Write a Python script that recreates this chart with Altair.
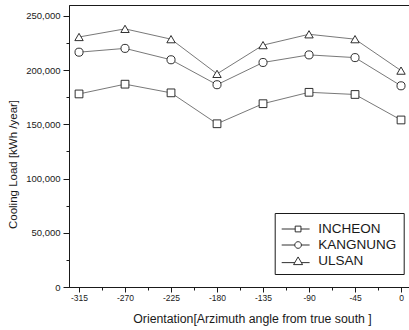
import altair as alt
import pandas as pd

angles = [-315, -270, -225, -180, -135, -90, -45, 0]
incheon = [178000, 187000, 179000, 150500, 169000, 179500, 177500, 154000]
kangnung = [216500, 220000, 209500, 186500, 207000, 214000, 211500, 185500]
ulsan = [230500, 238000, 228500, 196500, 223000, 233000, 228500, 199500]
series_names = ["INCHEON", "KANGNUNG", "ULSAN"]
x_tick_values = [-315, -292.5, -270, -247.5, -225, -202.5, -180, -157.5,
                 -135, -112.5, -90, -67.5, -45, -22.5, 0]
y_tick_values = [0, 25000, 50000, 75000, 100000, 125000, 150000, 175000,
                 200000, 225000, 250000]

rows = []
for name, vals in zip(series_names, [incheon, kangnung, ulsan]):
    for a, v in zip(angles, vals):
        rows.append({"series": name, "angle": a, "load": v})
df = pd.DataFrame(rows)

FONT = "Liberation Sans"
INK = "#1a1a1a"

x_enc = alt.X(
    "angle:Q",
    scale=alt.Scale(domain=[-324.8, 7.8], nice=False, zero=False),
    axis=alt.Axis(
        values=x_tick_values,
        labelExpr="datum.value % 45 == 0 ? datum.value : ''",
        tickSize={"condition": {"test": "datum.value % 45 == 0", "value": 5}, "value": 3},
        labelPadding=1,
        labelFontSize=8.5,
        labelFont=FONT,
        labelColor=INK,
        tickColor=INK,
        domainColor=INK,
        grid=False,
        title="Orientation[Arzimuth angle from true south ]",
        titleFont=FONT,
        titleFontSize=12.3,
        titleFontWeight="normal",
        titleColor=INK,
        titleX=183,
        titleY=31,
        titleBaseline="middle",
    ),
)
y_enc = alt.Y(
    "load:Q",
    scale=alt.Scale(domain=[0, 260000], nice=False),
    axis=alt.Axis(
        values=y_tick_values,
        labelExpr="datum.value % 50000 == 0 ? format(datum.value, ',') : ''",
        tickSize={"condition": {"test": "datum.value % 50000 == 0", "value": 6}, "value": 3},
        labelPadding=3,
        labelFontSize=9.5,
        labelFont=FONT,
        labelColor=INK,
        tickColor=INK,
        domainColor=INK,
        grid=False,
        title="Cooling Load [kWh /year]",
        titleFont=FONT,
        titleFontSize=11.5,
        titleFontWeight="normal",
        titleColor=INK,
        titleX=-56,
        titleY=159,
        titleAngle=270,
        titleAlign="center",
        titleBaseline="middle",
    ),
)

lines = alt.Chart(df).mark_line(color="#555", strokeWidth=0.8).encode(
    x=x_enc, y=y_enc, detail="series:N"
)

points = alt.Chart(df).mark_point(
    filled=True, fill="white", stroke=INK, strokeWidth=0.9, opacity=1
).encode(
    x=x_enc,
    y=y_enc,
    shape=alt.Shape(
        "series:N",
        scale=alt.Scale(domain=series_names, range=["square", "circle", "triangle-up"]),
        legend=None,
    ),
    size=alt.Size(
        "series:N",
        scale=alt.Scale(domain=series_names, range=[60, 70, 110]),
        legend=None,
    ),
)

# legend glyphs: line segment with the series symbol
legend_paths = [
    "M-1.0,0H0.5M1.14,0H2.1M0.5,-0.32H1.14V0.32H0.5Z",
    "M-1.0,0H0.45M1.19,0H2.1M0.45,0A0.37,0.37 0 1,0 1.19,0A0.37,0.37 0 1,0 0.45,0",
    "M-1.0,0.18H0.46M1.18,0.18H2.1M0.32,0.4L0.82,-0.45L1.32,0.4Z",
]

legend_layer = alt.Chart(df).transform_filter("datum.load < 0").mark_point(
    filled=False, stroke=INK, strokeWidth=0.9
).encode(
    x=x_enc,
    y=y_enc,
    shape=alt.Shape(
        "series:N",
        scale=alt.Scale(domain=series_names, range=legend_paths),
        legend=alt.Legend(
            title=None,
            orient="none",
            legendX=205.7,
            legendY=208,
            strokeColor=INK,
            fillColor="white",
            padding=6.5,
            symbolSize=324,
            symbolStrokeWidth=0.9,
            symbolStrokeColor=INK,
            symbolOpacity=1,
            labelFont=FONT,
            labelFontSize=13.5,
            labelColor=INK,
            labelOffset=18,
            rowPadding=0,
        ),
    ),
)

chart = (
    alt.layer(lines, points, legend_layer)
    .resolve_scale(shape="independent", size="independent")
    .properties(
        width=340,
        height=282,
        autosize=alt.AutoSizeParams(type="none"),
        padding={"left": 69, "top": 5, "right": 0, "bottom": 43},
        background="white",
    )
    .configure_view(stroke=INK, strokeWidth=1)
)

chart.save("out.html", embed_options={"renderer": "svg", "actions": False})
